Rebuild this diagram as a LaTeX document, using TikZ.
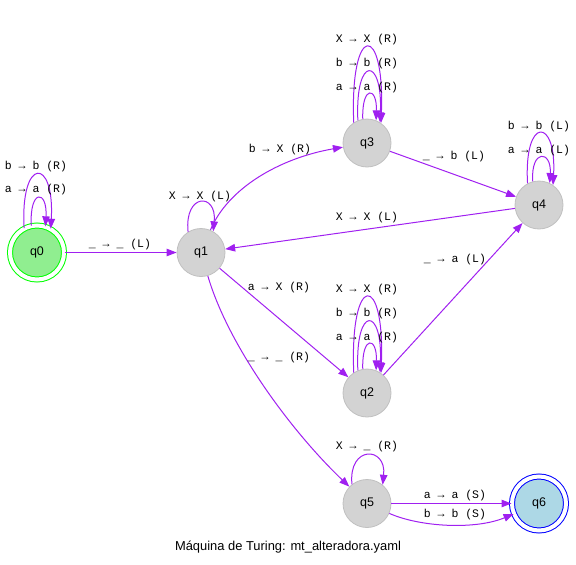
\documentclass[tikz,border=0pt]{standalone}
\usepackage{fontspec}
\setmainfont{Liberation Sans}
\newfontfamily\lblfont{Liberation Mono}
\usetikzlibrary{arrows.meta,calc}
\definecolor{edgecol}{HTML}{A020F0}
\definecolor{greyfill}{HTML}{D3D3D3}
\definecolor{greyline}{HTML}{C0C0C0}
\definecolor{greenfill}{HTML}{90EE90}
\definecolor{greenline}{HTML}{00FF00}
\definecolor{bluefill}{HTML}{ADD8E6}
\definecolor{blueline}{HTML}{0000FF}
\newcommand\selfloop[5]{\draw[edge] (#1.#2) .. controls ($(#1.#2)+(-#5,-#4)$) and ($(#1.#3)+(#5,-#4)$) .. (#1.#3);}
\begin{document}
\begin{tikzpicture}[x=1pt,y=-1pt,
  state/.style={circle,minimum size=48pt,inner sep=0pt,draw=greyline,fill=greyfill,line width=0.8pt,font=\fontsize{12.5}{12.5}\selectfont},
  final/.style={circle,minimum size=54pt,inner sep=0pt,line width=1pt,double distance=4pt,double=white,font=\fontsize{12.5}{12.5}\selectfont},
  edge/.style={draw=edgecol,line width=1pt,-{Triangle[length=10pt,width=7.5pt]}},
  lbl/.style={font=\lblfont\fontsize{11.5}{11.5}\selectfont,inner sep=1pt}]
\useasboundingbox (0,0) rectangle (576,565);
\node[final,draw=greenline,fill=greenfill] (q0) at (37,252.5) {q0};
\node[state] (q1) at (201,252.5) {q1};
\node[state] (q3) at (367,143) {q3};
\node[state] (q4) at (539,205) {q4};
\node[state] (q2) at (367,393) {q2};
\node[state] (q5) at (367,503.5) {q5};
\node[final,draw=blueline,fill=bluefill] (q6) at (539,503.5) {q6};
% self loops
\selfloop{q0}{102}{72}{37}{2}
\selfloop{q0}{118}{60}{72}{4}
\selfloop{q1}{122}{60}{39}{4}
\selfloop{q3}{100}{68}{34}{1}
\selfloop{q3}{112}{58}{66}{3}
\selfloop{q3}{123}{55}{101}{4}
\selfloop{q2}{100}{68}{34}{1}
\selfloop{q2}{112}{58}{66}{3}
\selfloop{q2}{123}{55}{101}{4}
\selfloop{q4}{105}{64}{33}{2}
\selfloop{q4}{118}{55}{68}{4}
\selfloop{q5}{128}{50}{39}{4}
% edges
\draw[edge] (q0) -- (q1);
\draw[edge] (q1) .. controls (228,188) and (280,158) .. (q3);
\draw[edge] (q1) -- (q2);
\draw[edge] (q1) .. controls (228,345) and (290,430) .. (q5);
\draw[edge] (q3) -- (q4);
\draw[edge] (q4) -- (q1);
\draw[edge] (q2) -- (q4);
\draw[edge] (q5) -- (q6);
\draw[edge] (q5) .. controls (420,527) and (475,530) .. (q6);
% labels
\node[lbl] (l00a) at (36,190) {a → a (R)};
\node[lbl] (l00b) at (36,167) {b → b (R)};
\node[lbl] (l01) at (120,245) {\_ → \_ (L)};
\node[lbl] (l11) at (200,197) {X → X (L)};
\node[lbl] (l13) at (280,150) {b → X (R)};
\node[lbl] (l12) at (279,288) {a → X (R)};
\node[lbl] (l15) at (279,358) {\_ → \_ (R)};
\node[lbl] (l33a) at (367,88) {a → a (R)};
\node[lbl] (l33b) at (367,64) {b → b (R)};
\node[lbl] (l33c) at (367,40) {X → X (R)};
\node[lbl] (l34) at (454,157) {\_ → b (L)};
\node[lbl] (l44a) at (539,151) {a → a (L)};
\node[lbl] (l44b) at (539,127) {b → b (L)};
\node[lbl] (l41) at (367,218) {X → X (L)};
\node[lbl] (l22a) at (367,338) {a → a (R)};
\node[lbl] (l22b) at (367,314) {b → b (R)};
\node[lbl] (l22c) at (367,290) {X → X (R)};
\node[lbl] (l24) at (455,260) {\_ → a (L)};
\node[lbl] (l55) at (367,447) {X → \_ (R)};
\node[lbl] (l56a) at (455,496) {a → a (S)};
\node[lbl] (l56b) at (455,515) {b → b (S)};
\node[font=\fontsize{12.9}{12.9}\selectfont] (title) at (288,547) {Máquina de Turing: mt\_alteradora.yaml};
\end{tikzpicture}
\end{document}
